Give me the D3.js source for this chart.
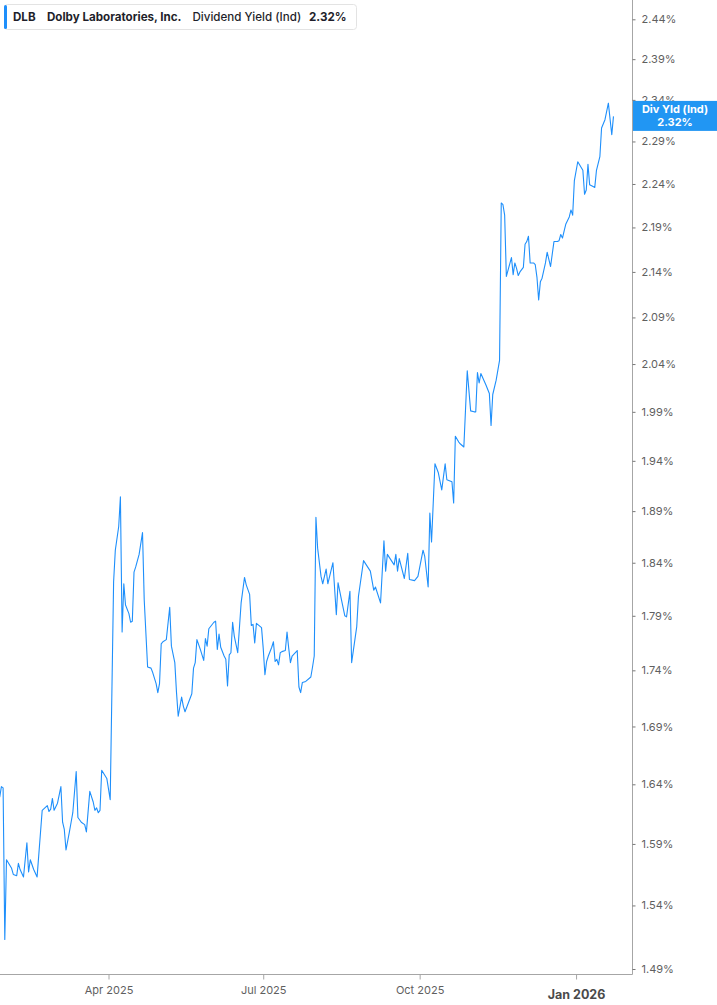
<!DOCTYPE html>
<html><head><meta charset="utf-8">
<script src="https://cdn.jsdelivr.net/npm/d3@7"></script>
<style>
body{margin:0;background:#fff;}
svg{display:block;font-family:Inter,"Noto Sans",sans-serif;}
</style>
</head><body>
<svg id="chart" width="717" height="1005"></svg>
<script>
const dates = [
"2025-01-27","2025-01-28","2025-01-29","2025-01-30","2025-01-31","2025-02-03","2025-02-04","2025-02-06","2025-02-07","2025-02-08",
"2025-02-10","2025-02-12","2025-02-13","2025-02-14","2025-02-16","2025-02-18","2025-02-21","2025-02-24","2025-02-25","2025-02-26",
"2025-02-27","2025-02-28","2025-03-02","2025-03-04","2025-03-05","2025-03-06","2025-03-07","2025-03-09","2025-03-10","2025-03-11",
"2025-03-13","2025-03-14","2025-03-16","2025-03-18","2025-03-19","2025-03-21","2025-03-23","2025-03-24","2025-03-25","2025-03-26",
"2025-03-27","2025-03-28","2025-03-31","2025-04-02","2025-04-04","2025-04-05","2025-04-07","2025-04-08","2025-04-09","2025-04-10",
"2025-04-11","2025-04-13","2025-04-14","2025-04-15","2025-04-16","2025-04-17","2025-04-19","2025-04-21","2025-04-22","2025-04-24",
"2025-04-26","2025-04-27","2025-04-29","2025-04-30","2025-05-01","2025-05-02","2025-05-03","2025-05-05","2025-05-07","2025-05-08",
"2025-05-10","2025-05-11","2025-05-12","2025-05-14","2025-05-15","2025-05-16","2025-05-18","2025-05-20","2025-05-21","2025-05-22",
"2025-05-23","2025-05-25","2025-05-27","2025-05-28","2025-05-29","2025-05-30","2025-06-02","2025-06-03","2025-06-04","2025-06-05",
"2025-06-06","2025-06-08","2025-06-09","2025-06-10","2025-06-11","2025-06-12","2025-06-13","2025-06-14","2025-06-16","2025-06-18",
"2025-06-20","2025-06-21","2025-06-23","2025-06-24","2025-06-25","2025-06-26","2025-06-27","2025-06-30","2025-07-01","2025-07-02",
"2025-07-03","2025-07-04","2025-07-06","2025-07-07","2025-07-08","2025-07-09","2025-07-10","2025-07-11","2025-07-12","2025-07-14",
"2025-07-15","2025-07-16","2025-07-17","2025-07-18","2025-07-21","2025-07-22","2025-07-23","2025-07-24","2025-07-26","2025-07-29",
"2025-07-30","2025-07-31","2025-08-01","2025-08-02","2025-08-04","2025-08-05","2025-08-07","2025-08-08","2025-08-11","2025-08-13",
"2025-08-14","2025-08-16","2025-08-18","2025-08-19","2025-08-21","2025-08-22","2025-08-25","2025-08-26","2025-08-29","2025-09-02",
"2025-09-04","2025-09-05","2025-09-08","2025-09-10","2025-09-11","2025-09-12","2025-09-16","2025-09-17","2025-09-18","2025-09-19",
"2025-09-22","2025-09-24","2025-09-25","2025-09-28","2025-09-30","2025-10-03","2025-10-04","2025-10-06","2025-10-07","2025-10-08",
"2025-10-10","2025-10-12","2025-10-14","2025-10-16","2025-10-17","2025-10-20","2025-10-21","2025-10-22","2025-10-24","2025-10-25",
"2025-10-27","2025-10-29","2025-10-31","2025-11-02","2025-11-03","2025-11-04","2025-11-05","2025-11-06","2025-11-09","2025-11-11",
"2025-11-12","2025-11-13","2025-11-15","2025-11-17","2025-11-18","2025-11-19","2025-11-20","2025-11-21","2025-11-22","2025-11-24",
"2025-11-25","2025-11-26","2025-11-27","2025-11-28","2025-11-29","2025-12-01","2025-12-02","2025-12-03","2025-12-04","2025-12-05",
"2025-12-07","2025-12-08","2025-12-09","2025-12-10","2025-12-11","2025-12-12","2025-12-14","2025-12-15","2025-12-17","2025-12-19",
"2025-12-21","2025-12-22","2025-12-23","2025-12-24","2025-12-25","2025-12-26","2025-12-28","2025-12-29","2025-12-30","2025-12-31",
"2026-01-02","2026-01-05","2026-01-06","2026-01-07","2026-01-08","2026-01-09","2026-01-11","2026-01-12","2026-01-13","2026-01-15",
"2026-01-16","2026-01-18","2026-01-20","2026-01-22","2026-01-23"
];
const values = [
1.629,1.638,1.637,1.513,1.577,1.570,1.565,1.564,1.574,1.569,
1.563,1.591,1.567,1.577,1.569,1.563,1.618,1.622,1.617,1.619,
1.628,1.618,1.624,1.638,1.608,1.602,1.585,1.600,1.608,1.616,
1.651,1.612,1.608,1.606,1.600,1.634,1.625,1.618,1.620,1.616,
1.618,1.652,1.645,1.627,1.822,1.852,1.875,1.904,1.775,1.820,
1.800,1.792,1.784,1.785,1.831,1.836,1.848,1.869,1.805,1.743,
1.742,1.738,1.728,1.720,1.728,1.764,1.766,1.768,1.798,1.762,
1.747,1.720,1.699,1.716,1.708,1.703,1.711,1.719,1.742,1.747,
1.768,1.759,1.749,1.769,1.762,1.778,1.784,1.785,1.759,1.773,
1.761,1.753,1.750,1.726,1.754,1.756,1.784,1.771,1.756,1.802,
1.826,1.819,1.810,1.781,1.782,1.765,1.783,1.779,1.760,1.736,
1.748,1.753,1.761,1.766,1.748,1.750,1.745,1.756,1.757,1.758,
1.775,1.760,1.747,1.753,1.758,1.725,1.720,1.729,1.730,1.734,
1.743,1.753,1.884,1.854,1.827,1.820,1.834,1.820,1.840,1.791,
1.821,1.805,1.790,1.789,1.813,1.747,1.780,1.808,1.842,1.832,
1.814,1.817,1.802,1.861,1.832,1.848,1.838,1.848,1.832,1.844,
1.825,1.849,1.824,1.823,1.827,1.852,1.846,1.817,1.888,1.860,
1.937,1.928,1.911,1.937,1.921,1.919,1.898,1.965,1.959,1.957,
1.954,2.033,1.991,1.990,1.990,2.031,2.020,2.030,2.018,2.009,
1.976,2.008,2.023,2.044,2.218,2.216,2.204,2.135,2.142,2.156,
2.137,2.150,2.144,2.136,2.140,2.145,2.171,2.174,2.180,2.150,
2.150,2.148,2.134,2.109,2.129,2.133,2.150,2.162,2.146,2.174,
2.174,2.175,2.182,2.178,2.186,2.194,2.202,2.210,2.204,2.244,
2.266,2.256,2.228,2.233,2.263,2.239,2.237,2.236,2.256,2.272,
2.306,2.316,2.336,2.298,2.320
];
const yTickValues = [1.49,1.54,1.59,1.64,1.69,1.74,1.79,1.84,1.89,1.94,1.99,2.04,2.09,2.14,2.19,2.24,2.29,2.34,2.39,2.44];
const xTickDates = ["2025-04-01","2025-07-01","2025-10-01","2026-01-01"];
const xTickLabels = ["Apr 2025","Jul 2025","Oct 2025","Jan 2026"];
const legendTicker = "DLB";
const legendName = "Dolby Laboratories, Inc.";
const legendMetric = "Dividend Yield (Ind)";
const lastValueLabel = "2.32%";
const badgeTitle = "Div Yld (Ind)";

const parse = d3.utcParse("%Y-%m-%d");
const data = dates.map((d,i)=>({date:parse(d), value:values[i]}));

const svg = d3.select("#chart");
const plotRight = 632, plotBottom = 974;
const blue = "#1e8ffb";

const x = d3.scaleUtc()
  .domain([new Date(Date.UTC(2025,0,27,4,19)), new Date(Date.UTC(2026,1,2,21,36))])
  .range([0, plotRight]);
const y = d3.scaleLog().domain([1.49, 2.44]).range([969, 19.3]);

// line
svg.append("path").datum(data)
  .attr("fill","none").attr("stroke",blue).attr("stroke-width",1.1)
  .attr("stroke-linejoin","round")
  .attr("d", d3.line().x(d=>x(d.date)).y(d=>y(d.value)));

// frame lines
svg.append("line").attr("x1",plotRight+0.5).attr("x2",plotRight+0.5).attr("y1",0).attr("y2",plotBottom+0.5)
  .attr("stroke","#a6a6a6").attr("stroke-width",1);
svg.append("line").attr("x1",0).attr("x2",plotRight+0.5).attr("y1",plotBottom+0.5).attr("y2",plotBottom+0.5)
  .attr("stroke","#a6a6a6").attr("stroke-width",1);

// y axis
const yAxis = svg.append("g").attr("transform",`translate(${plotRight+0.5},0)`)
  .call(d3.axisRight(y).tickValues(yTickValues).tickFormat(d=>d.toFixed(2)+"%").tickSize(3).tickPadding(6));
yAxis.select(".domain").remove();
yAxis.selectAll(".tick line").attr("stroke","#777");
yAxis.selectAll(".tick text").attr("fill","#5f5f5f").style("font-size","11px").style("font-family","Inter, sans-serif");

// x axis
const xAxis = svg.append("g").attr("transform",`translate(0,${plotBottom+0.5})`)
  .call(d3.axisBottom(x).tickValues(xTickDates.map(parse)).tickFormat((d,i)=>xTickLabels[i]).tickSize(5).tickPadding(7));
xAxis.select(".domain").remove();
xAxis.selectAll(".tick line").attr("stroke","#a6a6a6");
xAxis.selectAll(".tick text").attr("fill","#5f5f5f").style("font-size","11px").style("font-family","Inter, sans-serif")
  .filter((d,i)=>i===xTickLabels.length-1)
  .style("font-size","12.5px").style("font-weight","700").attr("fill","#4a4a4a").attr("dy","1.0em");

// last value badge
const lastY = y(values[values.length-1]);
const badge = svg.append("g");
badge.append("rect").attr("x",plotRight+1).attr("y",lastY-15.5).attr("width",717-plotRight).attr("height",30)
  .attr("fill","#2196f3");
badge.append("text").attr("x",675).attr("y",lastY-3).attr("text-anchor","middle")
  .attr("fill","#fff").style("font-size","11px").style("font-weight","700").text(badgeTitle);
badge.append("text").attr("x",675).attr("y",lastY+9.5).attr("text-anchor","middle")
  .attr("fill","#fff").style("font-size","11px").style("font-weight","700").text(lastValueLabel);

// legend
const lg = svg.append("g");
lg.append("rect").attr("x",4.5).attr("y",4.5).attr("width",352).attr("height",25).attr("rx",3)
  .attr("fill","#fff").attr("stroke","#e3e3e3");
lg.append("rect").attr("x",4).attr("y",5).attr("width",3).attr("height",24).attr("rx",1.5).attr("fill",blue);
const ts = {"font-size":"11.6px","fill":"#1f1f2b"};
function lt(xp, txt, w){
  const t = lg.append("text").attr("x",xp).attr("y",21).text(txt)
    .style("font-size","11.6px").attr("fill","#1f1f2b").style("font-weight",w);
  return t;
}
lt(13, legendTicker, 700);
lt(47, legendName, 700);
lt(192.5, legendMetric, 500);
lt(309, lastValueLabel, 700);
</script>
</body></html>
